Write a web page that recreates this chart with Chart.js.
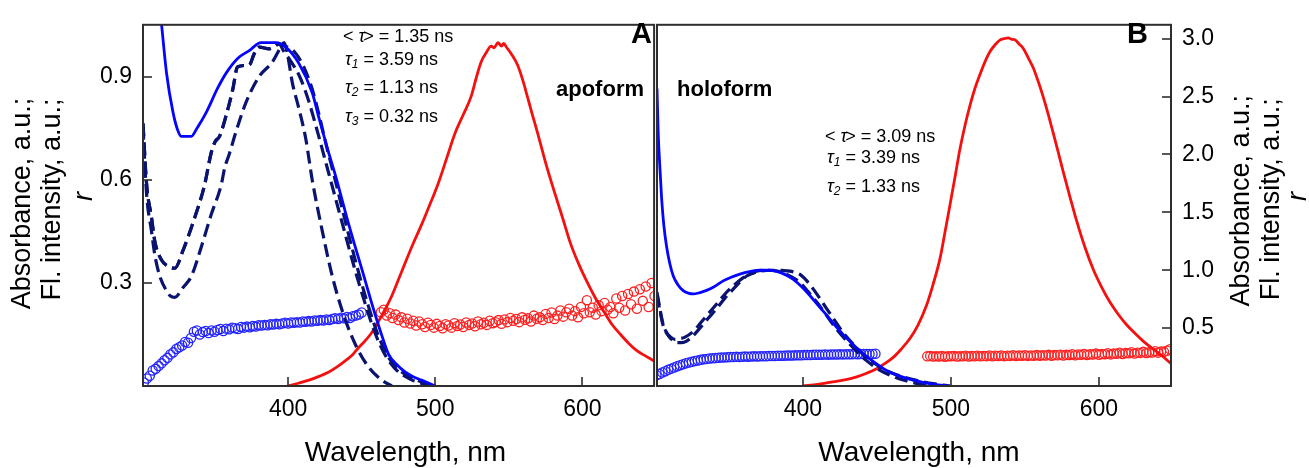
<!DOCTYPE html>
<html>
<head>
<meta charset="utf-8">
<title>Apoform / holoform spectra</title>
<script src="https://cdn.jsdelivr.net/npm/chart.js@4.4.1/dist/chart.umd.min.js"></script>
<style>
  html, body { margin: 0; padding: 0; background: #fff; }
  #page { position: relative; width: 1309px; height: 468px; overflow: hidden; }
  .panel { position: absolute; top: 0; height: 468px; }
  #panelA { left: 0; width: 660px; }
  #panelB { left: 645px; width: 664px; }
</style>
</head>
<body>
<div id="page">
  <div class="panel" id="panelA"><canvas id="chartA"></canvas></div>
  <div class="panel" id="panelB"><canvas id="chartB"></canvas></div>
</div>
<script>
var FONT = "'Liberation Sans', Arial, Helvetica, sans-serif";
Chart.defaults.font.family = FONT;
Chart.defaults.color = '#000';

// axes
var xMin = 301.4, xMax = 648.7;
var xTicks = [400, 500, 600];
var xTitle = 'Wavelength, nm';
var yMaxApo = 1.052;
var yTicksApo = [0.3, 0.6, 0.9];
var yMaxHolo = 3.12;
var yTicksHolo = [0.5, 1.0, 1.5, 2.0, 2.5, 3.0];
var yTitleLines = ['Absorbance, a.u.;', 'Fl. intensity, a.u.;', 'r'];

// mean lifetime first, then the components
var apoLifetimes = [1.35, 3.59, 1.13, 0.32];
var holoLifetimes = [3.09, 3.39, 1.33];

// ---- apoform ----
// absorbance
var absApoNm = [310, 314, 317.4, 321.8, 325, 327.5, 334.3, 338, 344.4, 352.2,
  358, 365.7, 373.6, 381.6, 391.7, 398.4, 407.4, 416.4, 421, 426.5,
  432.2, 441.2, 450.2, 459.3, 464, 468.2, 474, 479.5, 485, 490.7, 500];
var absApo = [1.22, 1.053, 0.911, 0.797, 0.745, 0.727, 0.727, 0.75, 0.797, 0.868,
  0.912, 0.954, 0.977, 1.0, 1.0, 0.987, 0.939, 0.854, 0.78, 0.695,
  0.613, 0.471, 0.339, 0.206, 0.143, 0.093, 0.062, 0.041, 0.027, 0.017, 0.0];

// excitation spectra of the lifetime components
var exApo1Nm = [301.4, 303.8, 307.2, 309.5, 314, 318, 323, 328.6, 336.5, 343.2,
  347.8, 350.5, 353.4, 357.9, 362.4, 365.7, 373.6, 377, 380.4, 387.2,
  394, 398, 404, 410, 416, 421, 426, 432, 440, 447,
  454, 461, 468, 476, 486, 497];
var exApo1 = [0.765, 0.59, 0.49, 0.42, 0.367, 0.35, 0.343, 0.395, 0.49, 0.585,
  0.68, 0.712, 0.727, 0.788, 0.864, 0.93, 0.935, 0.968, 0.987, 0.982,
  0.996, 0.99, 0.975, 0.935, 0.87, 0.79, 0.70, 0.6, 0.46, 0.345,
  0.24, 0.15, 0.085, 0.045, 0.02, 0.003];
var exApo2Nm = [301.4, 303.8, 307.2, 309.5, 312.8, 317.4, 320, 323, 328.6, 334.3,
  341, 347.8, 354.5, 357, 360, 364.6, 371.4, 380.4, 389.4, 395,
  397.3, 399.5, 402.9, 407.4, 412, 416.4, 423.2, 430, 437.8, 445.7,
  454.7, 463.7, 470.5];
var exApo2 = [0.755, 0.56, 0.45, 0.38, 0.32, 0.277, 0.262, 0.258, 0.287, 0.32,
  0.405, 0.5, 0.585, 0.637, 0.675, 0.741, 0.826, 0.902, 0.944, 0.987,
  1.0, 0.968, 0.883, 0.807, 0.72, 0.6, 0.452, 0.32, 0.206, 0.121,
  0.055, 0.017, 0.0];
var exApo3Nm = [301.4, 303.8, 307.2, 309.5, 314, 318, 323, 328.6, 336.5, 343.2,
  347.8, 350.5, 353.4, 357.9, 362.4, 365.7, 373.6, 377, 380.4, 387.2,
  394, 397, 402, 408, 414, 420, 426, 432, 438, 445,
  452, 459, 466, 474, 484, 495];
var exApo3 = [0.765, 0.59, 0.49, 0.42, 0.367, 0.35, 0.343, 0.395, 0.49, 0.585,
  0.68, 0.712, 0.727, 0.788, 0.864, 0.93, 0.935, 0.968, 0.987, 0.982,
  0.996, 0.975, 0.945, 0.9, 0.83, 0.74, 0.645, 0.55, 0.455, 0.345,
  0.245, 0.155, 0.09, 0.045, 0.018, 0.002];

// fluorescence
var flApoNm = [400, 407, 414.2, 421, 427.7, 433, 439, 444, 448, 452,
  455.9, 459, 462.6, 466.5, 470.5, 475, 479.5, 485, 490.7, 496,
  502, 507.5, 513.3, 519, 524.5, 528, 531.3, 534.5, 538, 540,
  542.6, 545, 546.5, 548.2, 552, 556, 559.5, 562.8, 566, 569.6,
  575, 580.9, 586.5, 592, 597.5, 603.4, 609, 614.7, 620, 625.9,
  631.5, 637.2, 643, 649];
var flApo = [0.0, 0.008, 0.017, 0.028, 0.041, 0.055, 0.074, 0.092, 0.112, 0.13,
  0.15, 0.17, 0.197, 0.228, 0.263, 0.31, 0.358, 0.415, 0.47, 0.525,
  0.59, 0.66, 0.735, 0.79, 0.845, 0.9, 0.945, 0.97, 0.99, 0.985,
  1.0, 0.99, 0.998, 0.988, 0.965, 0.934, 0.89, 0.84, 0.79, 0.736,
  0.65, 0.566, 0.49, 0.414, 0.355, 0.301, 0.255, 0.216, 0.18, 0.15,
  0.124, 0.102, 0.087, 0.072];

// anisotropy, sampled every rStep nm
var rStep = 2;
var rApoBlueStart = 302;
var rApoBlue = [0.010, 0.022, 0.030, 0.045, 0.050, 0.058, 0.066, 0.075, 0.082, 0.092,
  0.098, 0.108, 0.113, 0.118, 0.128, 0.126, 0.140, 0.158, 0.162, 0.150,
  0.157, 0.160, 0.154, 0.162, 0.158, 0.163, 0.166, 0.160, 0.167, 0.165,
  0.170, 0.168, 0.166, 0.172, 0.170, 0.173, 0.171, 0.175, 0.173, 0.177,
  0.176, 0.178, 0.177, 0.180, 0.179, 0.181, 0.180, 0.182, 0.184, 0.182,
  0.185, 0.184, 0.186, 0.185, 0.188, 0.187, 0.189, 0.188, 0.191, 0.190,
  0.192, 0.191, 0.194, 0.192, 0.195, 0.197, 0.195, 0.199, 0.197, 0.201,
  0.198, 0.203, 0.205, 0.208, 0.214];
var rApoRedStart = 463;
var rApoRed = [0.215, 0.222, 0.205, 0.212, 0.198, 0.208, 0.192, 0.200, 0.185, 0.196,
  0.182, 0.190, 0.176, 0.188, 0.180, 0.172, 0.184, 0.178, 0.170, 0.181,
  0.175, 0.168, 0.180, 0.176, 0.170, 0.183, 0.175, 0.179, 0.172, 0.185,
  0.178, 0.182, 0.174, 0.188, 0.180, 0.184, 0.178, 0.190, 0.183, 0.186,
  0.192, 0.181, 0.194, 0.186, 0.198, 0.190, 0.195, 0.186, 0.200, 0.193,
  0.197, 0.188, 0.205, 0.196, 0.200, 0.192, 0.210, 0.198, 0.214, 0.195,
  0.205, 0.220, 0.202, 0.215, 0.225, 0.205, 0.218, 0.200, 0.230, 0.212,
  0.250, 0.215, 0.228, 0.208, 0.235, 0.218, 0.242, 0.222, 0.230, 0.212,
  0.255, 0.228, 0.262, 0.220, 0.268, 0.238, 0.275, 0.225, 0.282, 0.248,
  0.290, 0.230, 0.300, 0.262];

// ---- holoform ----
var absHoloNm = [301.4, 302.2, 303.3, 304.5, 306, 307.9, 310, 312.4, 315.5, 319.1,
  322.5, 325.9, 330, 334.9, 340, 346.1, 351.5, 357.4, 364, 371,
  377, 382.2, 388, 393.5, 399, 404.7, 410, 416, 421.5, 427.2,
  433, 438.5, 444, 449.8, 455, 461, 467.5, 474.5, 481, 488,
  495, 500];
var absHolo = [2.57, 2.19, 1.9, 1.625, 1.39, 1.203, 1.06, 0.95, 0.875, 0.824,
  0.802, 0.795, 0.805, 0.826, 0.858, 0.908, 0.94, 0.967, 0.988, 1.0,
  1.0, 0.99, 0.962, 0.922, 0.86, 0.782, 0.7, 0.613, 0.527, 0.444,
  0.37, 0.304, 0.245, 0.191, 0.146, 0.107, 0.076, 0.051, 0.031, 0.017,
  0.006, 0.0];

var exHolo1Nm = [301.4, 303.5, 305.6, 308, 310.1, 312.5, 314.6, 318, 321.4, 325.5,
  330.4, 336, 341.7, 347, 352.9, 357.5, 362, 366.5, 371, 380,
  386, 391.2, 398, 402.5, 407, 411.5, 416, 420.5, 425, 429.5,
  434, 438.5, 443, 448.5, 454, 460.5, 467.6, 474.5, 481.3, 488,
  494.8, 499];
var exHolo1 = [0.81, 0.66, 0.529, 0.46, 0.416, 0.39, 0.374, 0.375, 0.388, 0.43,
  0.5, 0.585, 0.669, 0.755, 0.837, 0.9, 0.95, 0.975, 0.992, 1.0,
  0.998, 0.992, 0.964, 0.91, 0.837, 0.755, 0.669, 0.585, 0.5, 0.425,
  0.36, 0.3, 0.247, 0.195, 0.149, 0.11, 0.079, 0.055, 0.036, 0.02,
  0.008, 0.0];
var exHolo2Nm = [301.4, 303.5, 305.6, 308, 310, 313.5, 317, 320, 325.9, 331.5,
  337.2, 342.8, 348.4, 354, 359.7, 364, 368.7, 377, 382, 386.7,
  392, 398, 403.5, 409.3, 415, 420.5, 426, 431.8, 437.5, 443,
  448.5, 454.3, 461, 467.8, 472.5, 476.8, 481.3, 484];
var exHolo2 = [0.79, 0.64, 0.52, 0.455, 0.43, 0.402, 0.41, 0.42, 0.472, 0.555,
  0.641, 0.725, 0.81, 0.878, 0.936, 0.97, 0.992, 1.0, 0.995, 0.978,
  0.945, 0.894, 0.815, 0.725, 0.628, 0.529, 0.44, 0.36, 0.285, 0.219,
  0.165, 0.121, 0.082, 0.051, 0.035, 0.023, 0.008, 0.0];

var flHoloNm = [400, 410, 420.5, 429, 436.3, 443, 449.8, 455.5, 461, 466.5,
  472.3, 477.5, 483.6, 488, 492.6, 496, 499.3, 502.7, 506, 509.5,
  512.8, 516.2, 519.6, 523, 526.4, 530, 533.1, 536, 538.7, 541,
  543.2, 546, 548.8, 552, 555.6, 559, 562.4, 565.8, 569.1, 572.5,
  575.9, 580.5, 584.9, 590.5, 596.2, 601.8, 607.4, 613, 618.7, 624.3,
  629.9, 635.5, 641.2, 645, 649];
var flHolo = [0.0, 0.015, 0.036, 0.055, 0.079, 0.11, 0.149, 0.195, 0.247, 0.32,
  0.41, 0.52, 0.7, 0.88, 1.1, 1.33, 1.56, 1.8, 2.04, 2.25,
  2.42, 2.57, 2.69, 2.8, 2.889, 2.95, 2.988, 3.0, 3.007, 2.995,
  2.99, 2.955, 2.917, 2.84, 2.749, 2.63, 2.496, 2.345, 2.186, 2.02,
  1.849, 1.63, 1.428, 1.2, 1.006, 0.855, 0.725, 0.62, 0.529, 0.455,
  0.388, 0.33, 0.276, 0.235, 0.19];

var rHoloBlueStart = 301;
var rHoloBlue = [0.092, 0.104, 0.116, 0.128, 0.140, 0.150, 0.160, 0.170, 0.179, 0.188,
  0.196, 0.203, 0.210, 0.216, 0.221, 0.226, 0.230, 0.234, 0.237, 0.240,
  0.242, 0.244, 0.246, 0.247, 0.249, 0.250, 0.250, 0.252, 0.251, 0.253,
  0.254, 0.253, 0.255, 0.256, 0.255, 0.257, 0.258, 0.257, 0.259, 0.260,
  0.259, 0.261, 0.262, 0.261, 0.263, 0.264, 0.263, 0.265, 0.266, 0.265,
  0.267, 0.268, 0.267, 0.269, 0.270, 0.269, 0.271, 0.272, 0.271, 0.272,
  0.273, 0.272, 0.274, 0.273, 0.275, 0.274, 0.275, 0.276, 0.275, 0.276,
  0.277, 0.276, 0.277, 0.276, 0.278];
var rHoloRedStart = 484;
var rHoloRed = [0.256, 0.260, 0.254, 0.258, 0.255, 0.259, 0.253, 0.257, 0.256, 0.260,
  0.255, 0.258, 0.256, 0.261, 0.255, 0.259, 0.257, 0.262, 0.256, 0.260,
  0.258, 0.263, 0.257, 0.261, 0.259, 0.264, 0.258, 0.262, 0.260, 0.265,
  0.259, 0.263, 0.261, 0.266, 0.260, 0.264, 0.262, 0.268, 0.261, 0.266,
  0.263, 0.269, 0.262, 0.267, 0.265, 0.271, 0.264, 0.269, 0.267, 0.274,
  0.266, 0.272, 0.269, 0.277, 0.268, 0.274, 0.272, 0.280, 0.270, 0.277,
  0.275, 0.283, 0.273, 0.280, 0.278, 0.287, 0.276, 0.284, 0.282, 0.291,
  0.280, 0.288, 0.286, 0.295, 0.284, 0.292, 0.290, 0.300, 0.288, 0.297,
  0.295, 0.305, 0.318];

var BLUE = '#0505ff', NAVY = '#0a1470', RED = '#f51010';
var BLUE_R = '#2424ff', RED_R = '#ff2020';

function xy(xs, ys) {
  return xs.map(function (x, i) { return {x: x, y: ys[i]}; });
}
function stepped(start, ys) {
  return ys.map(function (y, i) { return {x: start + i * rStep, y: y}; });
}

function solid(data, color) {
  return {data: data, showLine: true, borderColor: color, borderWidth: 2.8,
    pointRadius: 0, cubicInterpolationMode: 'monotone'};
}
function dashed(data) {
  var d = solid(data, NAVY);
  d.borderWidth = 3.2;
  d.borderDash = [13, 6];
  return d;
}
function circles(data, color) {
  return {data: data, showLine: false, pointStyle: 'circle', pointRadius: 4.6,
    pointBorderWidth: 1.3, pointBorderColor: color, pointBackgroundColor: 'rgba(255,255,255,0)'};
}

function drawLifetimes(ctx, x0, ys, taus) {
  taus.forEach(function (v, i) {
    var x = x0, y = ys[i];
    function put(t, font, dy) {
      ctx.font = font;
      ctx.fillText(t, x, y + (dy || 0));
      x += ctx.measureText(t).width;
    }
    if (i === 0) {
      put('< ', '18px ' + FONT);
      put('\u03c4', 'italic 18px ' + FONT);
      x -= 2;
      put('>', '18px ' + FONT);
    } else {
      x += 2;
      put('\u03c4', 'italic 18px ' + FONT);
      put(String(i), 'italic 12px ' + FONT, 3);
    }
    put(' = ' + v.toFixed(2) + ' ns', '18px ' + FONT);
  });
}

// frame, inward ticks, axis titles, panel letter, form label, lifetimes
function makeDecor(o) {
  return {
    id: 'panelDecor',
    afterDraw: function (chart) {
      var ctx = chart.ctx, a = chart.chartArea, sx = chart.scales.x, sy = chart.scales.y;
      ctx.save();
      ctx.strokeStyle = '#222';
      ctx.lineWidth = 1.5;
      ctx.beginPath();
      xTicks.forEach(function (v) {
        var px = Math.round(sx.getPixelForValue(v));
        ctx.moveTo(px, a.bottom);
        ctx.lineTo(px, a.bottom - 9);
      });
      o.yTicks.forEach(function (v) {
        var py = Math.round(sy.getPixelForValue(v));
        if (o.side === 'left') { ctx.moveTo(a.left, py); ctx.lineTo(a.left + 9, py); }
        else { ctx.moveTo(a.right, py); ctx.lineTo(a.right - 9, py); }
      });
      ctx.stroke();

      ctx.strokeStyle = '#2e2e2e';
      ctx.lineWidth = 2;
      ctx.strokeRect(a.left, a.top, a.right - a.left, a.bottom - a.top);

      ctx.fillStyle = '#000';
      ctx.textBaseline = 'middle';
      ctx.textAlign = 'center';
      ctx.font = '28px ' + FONT;
      ctx.fillText(xTitle, o.xTitleX, 453);

      ctx.textBaseline = 'alphabetic';
      ctx.font = 'bold 29px ' + FONT;
      ctx.textAlign = 'right';
      ctx.fillText(o.letter, o.letterX, 42.5);
      ctx.font = 'bold 22px ' + FONT;
      ctx.textAlign = o.formAlign;
      ctx.fillText(o.form, o.formX, 96);
      ctx.textAlign = 'left';
      drawLifetimes(ctx, o.tauX, o.tauY, o.taus);

      yTitleLines.forEach(function (t, i) {
        ctx.save();
        ctx.translate(o.titleX[i], o.titleY[i]);
        ctx.rotate(-Math.PI / 2);
        ctx.font = (i === 2 ? 'italic ' : '') + '27px ' + FONT;
        ctx.textAlign = 'center';
        ctx.textBaseline = 'middle';
        ctx.fillText(t, 0, 0);
        ctx.restore();
      });
      ctx.restore();
    }
  };
}

function makeChart(id, datasets, yMax, yTicks, side, pad, decor) {
  return new Chart(document.getElementById(id), {
    type: 'scatter',
    data: {datasets: datasets},
    options: {
      responsive: true,
      maintainAspectRatio: false,
      animation: false,
      devicePixelRatio: 1,
      events: [],
      layout: {padding: pad},
      plugins: {legend: {display: false}, tooltip: {enabled: false}},
      scales: {
        x: {
          type: 'linear', min: xMin, max: xMax,
          grid: {display: false, drawTicks: false},
          border: {display: false},
          afterBuildTicks: function (s) { s.ticks = xTicks.map(function (v) { return {value: v}; }); },
          afterFit: function (s) { s.height = 82; },
          ticks: {font: {size: 23}, padding: 10, maxRotation: 0,
            callback: function (v) { return String(v); }}
        },
        y: {
          type: 'linear', position: side, min: 0, max: yMax,
          grid: {display: false, drawTicks: false},
          border: {display: false},
          afterBuildTicks: function (s) { s.ticks = yTicks.map(function (v) { return {value: v}; }); },
          afterFit: function (s) { s.width = side === 'left' ? 143 : 138; },
          ticks: {font: {size: 23}, padding: 11,
            callback: function (v) { return v.toFixed(1); }}
        }
      }
    },
    plugins: [decor]
  });
}

makeChart('chartA', [
  solid(xy(absApoNm, absApo), BLUE),
  dashed(xy(exApo1Nm, exApo1)),
  dashed(xy(exApo2Nm, exApo2)),
  dashed(xy(exApo3Nm, exApo3)),
  solid(xy(flApoNm, flApo), RED),
  circles(stepped(rApoBlueStart, rApoBlue), BLUE_R),
  circles(stepped(rApoRedStart, rApoRed), RED_R)
], yMaxApo, yTicksApo, 'left', {left: 0, right: 3, top: 15, bottom: 0}, makeDecor({
  side: 'left', yTicks: yTicksApo, xTitleX: 405.5,
  letter: 'A', letterX: 652,
  form: 'apoform', formX: 644, formAlign: 'right',
  tauX: 343, tauY: [41.7, 65, 93.3, 121.7], taus: apoLifetimes,
  titleX: [23, 53, 84], titleY: [203.5, 199.5, 196.5]
}));

makeChart('chartB', [
  solid(xy(absHoloNm, absHolo), BLUE),
  dashed(xy(exHolo1Nm, exHolo1)),
  dashed(xy(exHolo2Nm, exHolo2)),
  solid(xy(flHoloNm, flHolo), RED),
  circles(stepped(rHoloBlueStart, rHoloBlue), BLUE_R),
  circles(stepped(rHoloRedStart, rHoloRed), RED_R)
], yMaxHolo, yTicksHolo, 'right', {left: 12, right: 0, top: 15, bottom: 0}, makeDecor({
  side: 'right', yTicks: yTicksHolo, xTitleX: 274,
  letter: 'B', letterX: 503,
  form: 'holoform', formX: 32, formAlign: 'left',
  tauX: 180, tauY: [141.7, 163.3, 191.7], taus: holoLifetimes,
  titleX: [596.4, 626.4, 653.5], titleY: [200.8, 199.2, 196.5]
}));
</script>
</body>
</html>
